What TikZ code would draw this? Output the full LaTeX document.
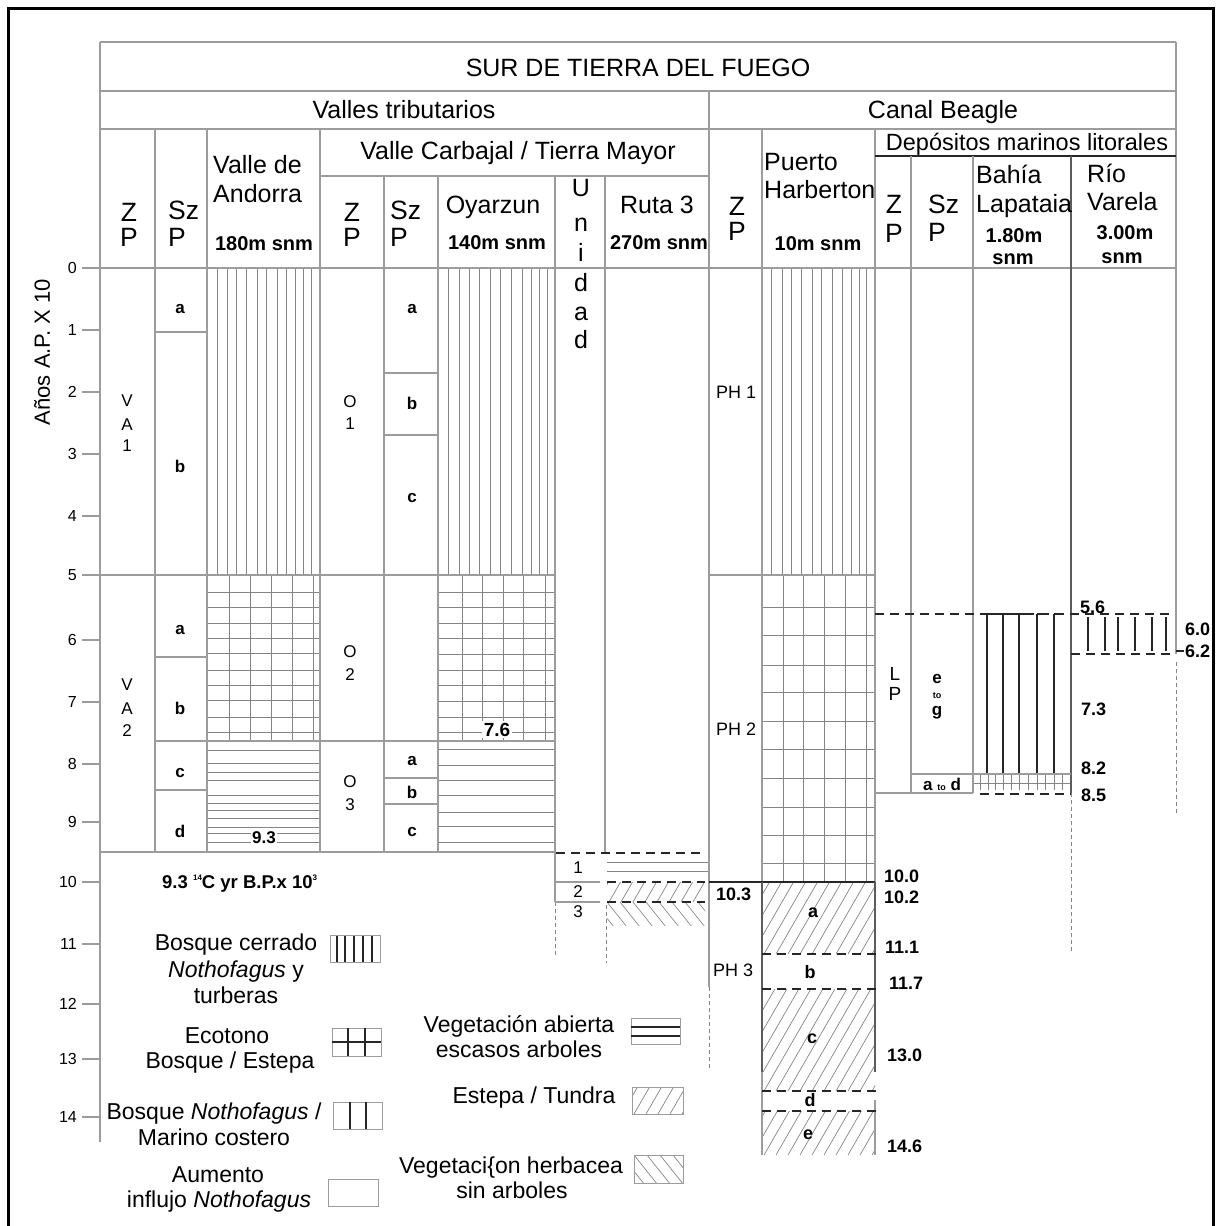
\documentclass[tikz,border=0pt]{standalone}
\usepackage{fontspec}
\setmainfont{Liberation Sans}
\definecolor{tl}{HTML}{9C9C9C}
\definecolor{pl}{HTML}{858585}
\definecolor{dk}{HTML}{262626}
\tikzset{
 tline/.style={draw=tl,line width=1.1pt},
 pline/.style={draw=pl,line width=0.8pt},
 dline/.style={draw=dk,line width=1.8pt},
 eline/.style={draw=dk!75,line width=1.3pt},
 dsh/.style={draw=dk,line width=1.8pt,dash pattern=on 9pt off 6pt},
 ddot/.style={draw=pl,line width=1pt,dash pattern=on 4pt off 3pt},
 hatchln/.style={draw=pl,line width=0.7pt},
 thk/.style={draw=dk,line width=2pt},
 lgbox/.style={draw=tl,line width=1pt},
 hdr/.style={font=\fontsize{25}{25}\selectfont,inner sep=0pt,anchor=base},
 hdrz/.style={font=\fontsize{26.5}{26.5}\selectfont,inner sep=0pt,anchor=base},
 hdrb/.style={font=\bfseries\fontsize{20}{20}\selectfont,inner sep=0pt,anchor=base},
 labA/.style={font=\fontsize{18}{18}\selectfont,inner sep=0pt,anchor=base},
 labB/.style={font=\fontsize{17}{17}\selectfont,inner sep=0pt,anchor=base},
 szl/.style={font=\bfseries\fontsize{17}{17}\selectfont,inner sep=0pt,anchor=base},
 numl/.style={font=\bfseries\fontsize{18}{18}\selectfont,inner sep=0pt,anchor=base west},
 leg/.style={font=\fontsize{23}{23}\selectfont,inner sep=0pt,anchor=base},
 tickl/.style={font=\fontsize{16}{16}\selectfont,inner sep=0pt,anchor=east},
}
\newcommand{\hatchfwd}[4]{\begin{scope}\clip (#1,#2) rectangle (#3,#4);
 \foreach \hx in {-130,-118,...,200}{\draw[hatchln] ({#1+\hx},{#4}) -- ++(75,-130);}\end{scope}}
\newcommand{\hatchbck}[4]{\begin{scope}\clip (#1,#2) rectangle (#3,#4);
 \foreach \hx in {-130,-117,...,200}{\draw[hatchln] ({#1+\hx},{#2}) -- ++(80,100);}\end{scope}}
\begin{document}
\begin{tikzpicture}[x=1pt,y=-1pt]
\useasboundingbox (0,0) rectangle (1217,1226);
% outer frame
\draw[line width=3pt,black] (8,1230) -- (8,8) -- (1213,8) -- (1213,1230);

% ---------- patterns ----------
% Andorra
\foreach \xx in {217,227,236,246,257,266,277,286,295,303,311} \draw[pline] (\xx,268) -- (\xx,575);
\foreach \xx in {229,250,271,292,313} \draw[pline] (\xx,575) -- (\xx,741);
\foreach \yy in {592,607,623,638,653,670,685,700,717,732} \draw[pline] (207,\yy) -- (320,\yy);
\foreach \yy in {750,763,772,780,795,803,810,818,827,833,842} \draw[pline] (207,\yy) -- (320,\yy);
% Oyarzun
\foreach \xx in {448,459,469,479,490,500,511,522,531,539,547} \draw[pline] (\xx,268) -- (\xx,575);
\foreach \xx in {462,482,503,523,545} \draw[pline] (\xx,575) -- (\xx,741);
\foreach \yy in {592,607,623,638,654,670,685,701,717,732} \draw[pline] (438,\yy) -- (555,\yy);
\foreach \yy in {749,765,780,795,812,826,842} \draw[pline] (438,\yy) -- (555,\yy);
% Harberton
\foreach \xx in {771,782,791,801,812,821,832,842,851,859,866} \draw[pline] (\xx,268) -- (\xx,575);
\foreach \xx in {783,803,824,845,866} \draw[pline] (\xx,575) -- (\xx,882);
\foreach \yy in {607,635,665,692,721,749,778,807,835,863} \draw[pline] (762,\yy) -- (875,\yy);
\hatchfwd{762}{882}{875}{954}
\hatchfwd{762}{989}{875}{1091}
\hatchfwd{762}{1111}{875}{1155}
% Ruta 3 lower
\draw[pline] (607,862) -- (709,862);
\draw[pline] (607,871) -- (709,871);
\hatchfwd{607}{882}{705}{902}
\hatchbck{607}{902}{705}{925}
% Bahia Lapataia
\foreach \xx in {987,1003,1019,1037,1054} {\draw[thk] (\xx,614) -- (\xx,774); \draw[thk] (\xx,614) -- (\xx+9,614);}
\draw[pline] (973,783) -- (1071,783);
\foreach \xx in {980,988,995,1003,1011,1019,1028,1037,1045,1054,1062} \draw[pline] (\xx,774) -- (\xx,790);
% Rio Varela
\foreach \xx in {1088,1105,1118,1135,1152,1166} \draw[thk] (\xx,617) -- (\xx,651);

% ---------- table lines ----------
\draw[tline] (100,42) -- (1176,42);
\draw[tline] (100,91) -- (1176,91);
\draw[tline] (100,129) -- (1176,129);
\draw[tline] (82,268) -- (1176,268);
\draw[tline] (100,42) -- (100,1142);
\draw[tline] (1176,42) -- (1176,654);
\draw[ddot] (1176,662) -- (1176,815);
\draw[tline] (709,91) -- (709,987);
\draw[ddot] (709,987) -- (709,1070);
\foreach \xx in {155,207,320} \draw[tline] (\xx,129) -- (\xx,852);
\draw[tline] (320,176) -- (709,176);
\foreach \xx in {384,438} \draw[tline] (\xx,176) -- (\xx,852);
\draw[tline] (555,176) -- (555,902);
\draw[ddot] (555,902) -- (555,957);
\draw[tline] (605,176) -- (605,852);
\draw[ddot] (606,905) -- (606,963);
\draw[tline] (762,129) -- (762,882);
\draw[tline] (875,129) -- (875,882);
\draw[dline] (875,156) -- (1176,156);
\draw[tline] (911,156) -- (911,793);
\draw[tline] (973,156) -- (973,793);
\draw[eline] (1071,156) -- (1071,793);
\draw[ddot] (1071,793) -- (1071,953);
% body horizontals
\draw[tline] (100,575) -- (555,575);
\draw[tline] (709,575) -- (875,575);
\draw[tline] (155,332) -- (207,332);
\draw[tline] (155,657) -- (207,657);
\draw[tline] (155,741) -- (555,741);
\draw[tline] (155,790) -- (207,790);
\draw[tline] (100,852) -- (555,852);
\draw[tline] (384,373) -- (438,373);
\draw[tline] (384,435) -- (438,435);
\draw[tline] (384,778) -- (438,778);
\draw[tline] (384,804) -- (438,804);
% Unidad lower
\draw[tline] (555,882) -- (600,882);
\draw[tline] (555,902) -- (600,902);
\draw[dsh] (556,853) -- (705,853);
\draw[dsh] (607,882) -- (705,882);
\draw[dsh] (607,902) -- (705,902);
% Harberton lower
\draw[dline] (709,882) -- (875,882);
\draw[eline] (762,882) -- (762,1072);
\draw[tline] (762,1072) -- (762,1155);
\draw[eline] (875,882) -- (875,1072);
\draw[tline] (875,1100) -- (875,1155);
\foreach \yy in {954,989,1091,1111} \draw[dsh] (762,\yy) -- (877,\yy);
% right side
\draw[tline] (875,793) -- (973,793);
\draw[tline] (911,774) -- (1071,774);
\draw[dsh] (875,614) -- (1170,614);
\draw[dsh] (1071,654) -- (1170,654);
\draw[dsh] (980,794) -- (1071,794);
\draw[draw=dk,line width=1.2pt] (1176,651) -- (1184,651);

% ---------- axis ----------
\foreach \v/\yy in {0/268,1/330,2/392,3/454,4/516,5/575,6/640,7/702,8/764,9/822,10/882,11/944,12/1004,13/1059,14/1117}{
 \draw[tline] (82,\yy) -- (100,\yy);
 \node[tickl] (tk\v) at (77,\yy) {\v};}
\node[font=\fontsize{22}{22}\selectfont,rotate=90,inner sep=0pt] (axt) at (42,352) {Años A.P. X 10};

% ---------- header text ----------
\node[hdr] (title) at (638,76) {SUR DE TIERRA DEL FUEGO};
\node[hdr] (vt) at (404,118) {Valles tributarios};
\node[hdr] (cb) at (943,118) {Canal Beagle};
\node[hdr] (vc) at (518,159) {Valle Carbajal / Tierra Mayor};
\node[hdr,font=\fontsize{23.5}{24}\selectfont] (dm) at (1027,150) {Depósitos marinos litorales};
\node[hdrz] (z1) at (129,221) {Z};
\node[hdrz] (p1) at (129,246) {P};
\node[hdrz,anchor=base west] (sz1) at (168,219) {Sz};
\node[hdrz,anchor=base west] (sp1) at (168,246) {P};
\node[hdr,anchor=base west] (van) at (213,173) {Valle de};
\node[hdr,anchor=base west] (and) at (213,202) {Andorra};
\node[hdrb] (am) at (264,250) {180m snm};
\node[hdrz] (z2) at (352,221) {Z};
\node[hdrz] (p2) at (352,246) {P};
\node[hdrz,anchor=base west] (sz2) at (390,219) {Sz};
\node[hdrz,anchor=base west] (sp2) at (390,246) {P};
\node[hdr] (oy) at (493,213) {Oyarzun};
\node[hdrb] (om) at (497,249) {140m snm};
\node[hdr] (u1) at (581,196) {U};
\node[hdr] (u2) at (581,231) {n};
\node[hdr] (u3) at (581,261) {i};
\node[hdr] (u4) at (581,291) {d};
\node[hdr] (u5) at (581,320) {a};
\node[hdr] (u6) at (581,348) {d};
\node[hdr] (ru) at (657,213) {Ruta 3};
\node[hdrb] (rm) at (659,249) {270m snm};
\node[hdrz] (z3) at (737,215) {Z};
\node[hdrz] (p3) at (737,240) {P};
\node[hdr,anchor=base west] (pu) at (764,170) {Puerto};
\node[hdr,anchor=base west] (ha) at (764,198) {Harberton};
\node[hdrb] (hm) at (818,250) {10m snm};
\node[hdrz] (z4) at (894,213) {Z};
\node[hdrz] (p4) at (894,242) {P};
\node[hdrz,anchor=base west] (sz4) at (928,213) {Sz};
\node[hdrz,anchor=base west] (sp4) at (928,241) {P};
\node[hdr,anchor=base west] (bah) at (976,183) {Bahía};
\node[hdr,anchor=base west] (lap) at (976,212) {Lapataia};
\node[hdrb] (bm1) at (1014,242) {1.80m};
\node[hdrb] (bm2) at (1013,264) {snm};
\node[hdr,anchor=base west] (rio) at (1087,182) {Río};
\node[hdr,anchor=base west] (var) at (1087,210) {Varela};
\node[hdrb] (vm1) at (1125,239) {3.00m};
\node[hdrb] (vm2) at (1122,263) {snm};

% ---------- body text ----------
\node[labB] (va1a) at (127,406) {V};
\node[labB] (va1b) at (127,430) {A};
\node[labB] (va1c) at (127,451) {1};
\node[labB] (va2a) at (127,690) {V};
\node[labB] (va2b) at (127,714) {A};
\node[labB] (va2c) at (127,736) {2};
\node[labB] (o1a) at (350,407) {O};
\node[labB] (o1b) at (350,429) {1};
\node[labB] (o2a) at (350,657) {O};
\node[labB] (o2b) at (350,680) {2};
\node[labB] (o3a) at (350,787) {O};
\node[labB] (o3b) at (350,810) {3};
\node[szl] (s1) at (180,313) {a};
\node[szl] (s2) at (180,472) {b};
\node[szl] (s3) at (180,634) {a};
\node[szl] (s4) at (180,714) {b};
\node[szl] (s5) at (180,777) {c};
\node[szl] (s6) at (180,837) {d};
\node[szl] (t1) at (412,313) {a};
\node[szl] (t2) at (412,409) {b};
\node[szl] (t3) at (412,502) {c};
\node[szl] (t4) at (412,765) {a};
\node[szl] (t5) at (412,798) {b};
\node[szl] (t6) at (412,836) {c};
\node[labA,anchor=base west] (ph1) at (716,398) {PH 1};
\node[labA,anchor=base west] (ph2) at (716,735) {PH 2};
\node[labA,anchor=base west] (ph3) at (713,976) {PH 3};
\node[numl] (n103) at (716,900) {10.3};
\node[labA,font=\fontsize{19}{19}\selectfont] (lpl) at (895,680) {L};
\node[labA,font=\fontsize{19}{19}\selectfont] (lpp) at (895,700) {P};
\node[szl] (eg1) at (937,683) {e};
\node[szl,font=\bfseries\fontsize{9}{9}\selectfont] (eg2) at (937,698) {to};
\node[szl] (eg3) at (937,715) {g};
\node[szl] (ad) at (942,790) {a {\fontsize{9}{9}\selectfont to} d};
\node[numl] (n56) at (1080,613) {5.6};
\node[numl] (n60) at (1185,635) {6.0};
\node[numl] (n62) at (1185,657) {6.2};
\node[numl] (n73) at (1081,715) {7.3};
\node[numl] (n82) at (1081,774) {8.2};
\node[numl] (n85) at (1081,801) {8.5};
\node[numl] (n100) at (884,882) {10.0};
\node[numl] (n102) at (884,903) {10.2};
\node[numl] (n111) at (885,953) {11.1};
\node[numl] (n117) at (889,989) {11.7};
\node[numl] (n130) at (887,1061) {13.0};
\node[numl] (n146) at (887,1152) {14.6};
\node[numl,anchor=base] (ha1) at (813,917) {a};
\node[numl,anchor=base] (ha2) at (810,978) {b};
\node[numl,anchor=base] (ha3) at (812,1043) {c};
\node[numl,anchor=base] (ha4) at (810,1106) {d};
\node[numl,anchor=base] (ha5) at (808,1139) {e};
\node[labB] (un1) at (578,873) {1};
\node[labB] (un2) at (578,897) {2};
\node[labB] (un3) at (578,917) {3};
\node[szl,font=\bfseries\fontsize{17}{17}\selectfont,fill=white,inner sep=1.5pt] (a93) at (264,843) {9.3};
\node[szl,font=\bfseries\fontsize{19}{19}\selectfont,fill=white,inner sep=1.5pt] (o76) at (497,736) {7.6};
\node[numl,font=\bfseries\fontsize{18.5}{18.5}\selectfont] (c14) at (162,888) {9.3 \raisebox{0.75ex}{\fontsize{8}{8}\selectfont 14}C yr B.P.x 10\raisebox{0.75ex}{\fontsize{8}{8}\selectfont 3}};

% ---------- legend ----------
\node[leg] (l1a) at (236,950) {Bosque cerrado};
\node[leg] (l1b) at (236,977) {\textit{Nothofagus} y};
\node[leg] (l1c) at (236,1003) {turberas};
\node[leg] (l2a) at (227,1043) {Ecotono};
\node[leg] (l2b) at (230,1068) {Bosque / Estepa};
\node[leg] (l3a) at (214,1119) {Bosque \textit{Nothofagus} /};
\node[leg] (l3b) at (214,1145) {Marino costero};
\node[leg] (l4a) at (218,1182) {Aumento};
\node[leg] (l4b) at (219,1207) {influjo \textit{Nothofagus}};
\node[leg] (l5a) at (519,1032) {Vegetación abierta};
\node[leg] (l5b) at (519,1057) {escasos arboles};
\node[leg] (l6a) at (534,1103) {Estepa / Tundra};
\node[leg] (l7a) at (511,1173) {Vegetaci\{on herbacea};
\node[leg] (l7b) at (512,1198) {sin arboles};
% legend symbols
\draw[lgbox] (330,935) rectangle (380,962);
\foreach \xx in {337,345,354,363,372} \draw[thk] (\xx,936) -- (\xx,962);
\draw[lgbox] (332,1028) rectangle (381,1056);
\draw[thk] (332,1042) -- (381,1042);
\foreach \xx in {348,365} \draw[thk] (\xx,1028) -- (\xx,1056);
\draw[lgbox] (333,1102) rectangle (382,1129);
\foreach \xx in {350,366} \draw[thk] (\xx,1102) -- (\xx,1129);
\draw[lgbox] (328,1179) rectangle (378,1206);
\draw[lgbox] (631,1018) rectangle (680,1044);
\draw[thk] (631,1027) -- (680,1027);
\draw[thk] (631,1036) -- (680,1036);
\hatchfwd{632}{1087}{683}{1114}
\draw[lgbox] (632,1087) rectangle (683,1114);
\hatchbck{634}{1155}{683}{1183}
\draw[lgbox] (634,1155) rectangle (683,1183);
\end{tikzpicture}
\end{document}
